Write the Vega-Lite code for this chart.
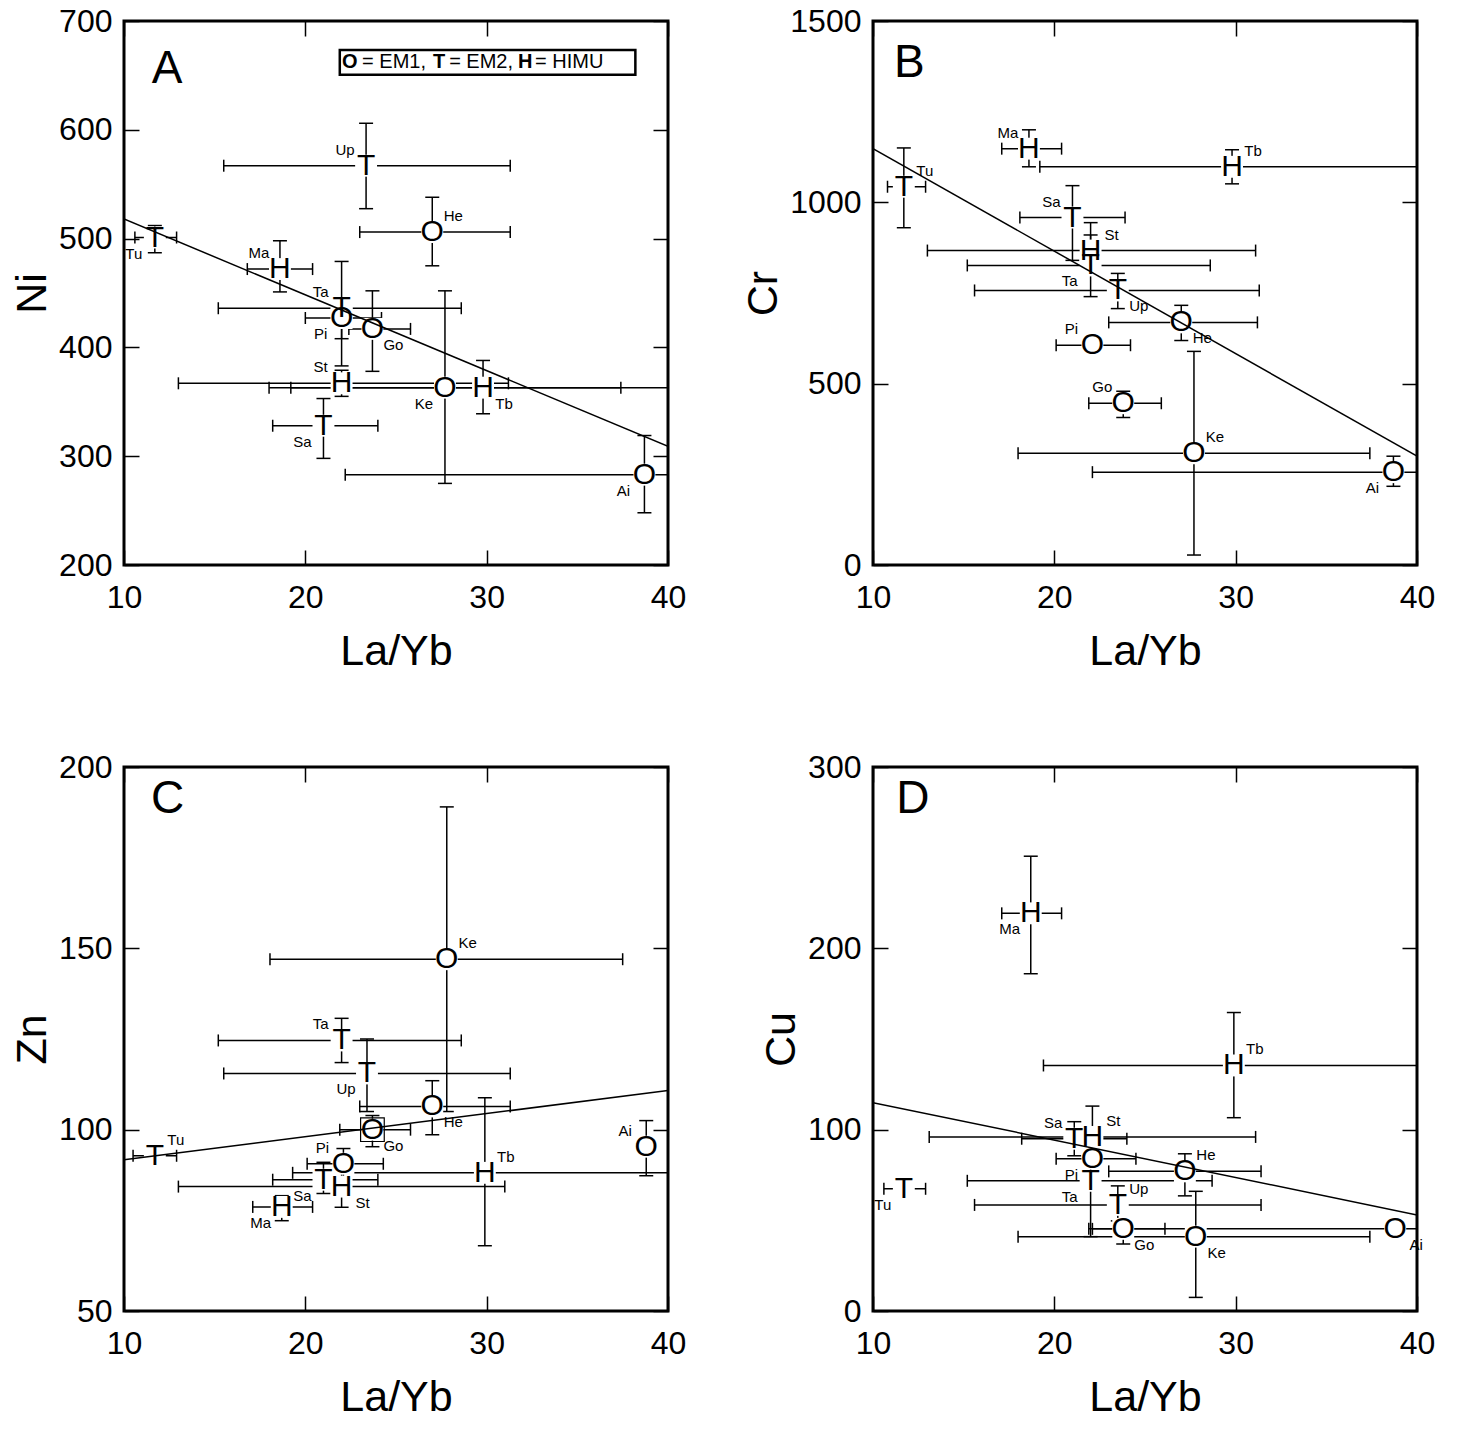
{
"$schema": "https://vega.github.io/schema/vega-lite/v6.json",
"padding": {"left": 10, "top": 3, "right": 5, "bottom": 5},
"background": "white",
"config": {
 "font": "Liberation Sans",
 "view": {"stroke": "black", "strokeWidth": 3},
 "axis": {"labelFont": "Liberation Sans", "labelFontSize": 32, "titleFont": "Liberation Sans", "titleFontSize": 43, "titleFontWeight": "normal", "labelColor": "black", "titleColor": "black", "tickColor": "black", "tickSize": -15, "tickWidth": 1.5, "domain": false, "grid": false, "labelPadding": 30, "labelFlush": false, "labelOverlap": false, "titlePadding": 10, "format": "d"},
 "axisX": {"labelPadding": 32, "titlePadding": 17},
 "axisY": {"labelPadding": 27, "titlePadding": 4},
 "text": {"font": "Liberation Sans", "color": "black"}
},
"datasets": {
 "A": [
  {"s": "Up", "m": "T", "x": 23.35, "y": 567, "xlo": 15.5, "xhi": 31.3, "ylo": 527.5, "yhi": 606, "lp": "nw"},
  {"s": "He", "m": "O", "x": 27.0, "y": 506, "xlo": 23.0, "xhi": 31.3, "ylo": 475, "yhi": 538, "lp": "ne"},
  {"s": "Tu", "m": "T", "x": 11.7, "y": 501, "xlo": 10.6, "xhi": 12.9, "ylo": 487, "yhi": 512, "lp": "sw"},
  {"s": "Ma", "m": "H", "x": 18.6, "y": 472, "xlo": 16.8, "xhi": 20.4, "ylo": 451, "yhi": 498, "lp": "nw"},
  {"s": "Ta", "m": "T", "x": 22.0, "y": 436, "xlo": 15.2, "xhi": 28.6, "ylo": 383, "yhi": 479, "lp": "nw"},
  {"s": "Pi", "m": "O", "x": 22.0, "y": 427, "xlo": 20.0, "xhi": 24.2, "ylo": 408, "yhi": 444, "lp": "sw"},
  {"s": "Go", "m": "O", "x": 23.7, "y": 417, "xlo": 22.4, "xhi": 25.8, "ylo": 378, "yhi": 452, "lp": "se"},
  {"s": "St", "m": "H", "x": 22.0, "y": 367, "xlo": 13.0, "xhi": 31.2, "ylo": 355, "yhi": 379, "lp": "nw"},
  {"s": "Ke", "m": "O", "x": 27.7, "y": 363, "xlo": 18.0, "xhi": 37.4, "ylo": 275, "yhi": 452, "lp": "sw"},
  {"s": "Tb", "m": "H", "x": 29.8, "y": 363, "xlo": 19.2, "xhi": 41, "ylo": 339, "yhi": 388, "lp": "se"},
  {"s": "Sa", "m": "T", "x": 21.0, "y": 328, "xlo": 18.2, "xhi": 24.0, "ylo": 298, "yhi": 353, "lp": "sw"},
  {"s": "Ai", "m": "O", "x": 38.7, "y": 283, "xlo": 22.2, "xhi": 41, "ylo": 248, "yhi": 319, "lp": "sw"}
 ],
 "B": [
  {"s": "Ma", "m": "H", "x": 18.6, "y": 1148, "xlo": 17.1, "xhi": 20.4, "ylo": 1098, "yhi": 1200, "lp": "nw"},
  {"s": "Tb", "m": "H", "x": 29.8, "y": 1098, "xlo": 19.2, "xhi": 41, "ylo": 1051, "yhi": 1145, "lp": "ne"},
  {"s": "Tu", "m": "T", "x": 11.7, "y": 1043, "xlo": 10.8, "xhi": 12.9, "ylo": 930, "yhi": 1150, "lp": "ne"},
  {"s": "Sa", "m": "T", "x": 21.0, "y": 958, "xlo": 18.1, "xhi": 23.9, "ylo": 840, "yhi": 1046, "lp": "nw"},
  {"s": "St", "m": "H", "x": 22.0, "y": 867, "xlo": 13.0, "xhi": 31.1, "ylo": 817, "yhi": 944, "lp": "ne"},
  {"s": "Ta", "m": "T", "x": 22.0, "y": 826, "xlo": 15.2, "xhi": 28.6, "ylo": 740, "yhi": 910, "lp": "sw"},
  {"s": "Up", "m": "T", "x": 23.5, "y": 757, "xlo": 15.6, "xhi": 31.3, "ylo": 707, "yhi": 804, "lp": "se"},
  {"s": "He", "m": "O", "x": 27.0, "y": 669, "xlo": 23.0, "xhi": 31.2, "ylo": 619, "yhi": 716, "lp": "se"},
  {"s": "Pi", "m": "O", "x": 22.1, "y": 606, "xlo": 20.1, "xhi": 24.2, "lp": "nw"},
  {"s": "Go", "m": "O", "x": 23.8, "y": 446, "xlo": 21.9, "xhi": 25.9, "ylo": 407, "yhi": 479, "lp": "nw"},
  {"s": "Ke", "m": "O", "x": 27.7, "y": 308, "xlo": 18.0, "xhi": 37.4, "ylo": 27.5, "yhi": 589, "lp": "ne"},
  {"s": "Ai", "m": "O", "x": 38.7, "y": 256, "xlo": 22.1, "xhi": 41, "ylo": 217, "yhi": 300, "lp": "sw"}
 ],
 "C": [
  {"s": "Ke", "m": "O", "x": 27.8, "y": 147, "xlo": 18.05, "xhi": 37.5, "ylo": 105, "yhi": 189, "lp": "ne"},
  {"s": "Ta", "m": "T", "x": 22.0, "y": 124.6, "xlo": 15.2, "xhi": 28.6, "ylo": 118.5, "yhi": 130.7, "lp": "nw"},
  {"s": "Up", "m": "T", "x": 23.4, "y": 115.5, "xlo": 15.5, "xhi": 31.3, "ylo": 105, "yhi": 125, "lp": "sw"},
  {"s": "He", "m": "O", "x": 27.0, "y": 106.4, "xlo": 23.0, "xhi": 31.3, "ylo": 98.6, "yhi": 113.5, "lp": "se"},
  {"s": "Go", "m": "O", "x": 23.7, "y": 100, "xlo": 21.9, "xhi": 25.8, "ylo": 95.3, "yhi": 103.9, "lp": "se", "box": 1},
  {"s": "Tu", "m": "T", "x": 11.7, "y": 92.8, "xlo": 10.5, "xhi": 12.9, "lp": "ne"},
  {"s": "Pi", "m": "O", "x": 22.1, "y": 90.6, "xlo": 20.1, "xhi": 24.3, "ylo": 86.4, "yhi": 94.8, "lp": "nw"},
  {"s": "Tb", "m": "H", "x": 29.9, "y": 88.1, "xlo": 19.3, "xhi": 41, "ylo": 68, "yhi": 108.8, "lp": "ne"},
  {"s": "Sa", "m": "T", "x": 21.0, "y": 86.2, "xlo": 18.2, "xhi": 24.0, "ylo": 82.4, "yhi": 91, "lp": "sw"},
  {"s": "St", "m": "H", "x": 22.0, "y": 84.3, "xlo": 13.0, "xhi": 31.0, "ylo": 78.6, "yhi": 89.5, "lp": "se"},
  {"s": "Ma", "m": "H", "x": 18.7, "y": 78.7, "xlo": 17.1, "xhi": 20.4, "ylo": 74.9, "yhi": 81.8, "lp": "sw"},
  {"s": "Ai", "m": "O", "x": 38.8, "y": 95.3, "ylo": 87.3, "yhi": 102.5, "lp": "nw"}
 ],
 "D": [
  {"s": "Ma", "m": "H", "x": 18.7, "y": 219.3, "xlo": 17.1, "xhi": 20.4, "ylo": 186, "yhi": 250.8, "lp": "sw"},
  {"s": "Tb", "m": "H", "x": 29.9, "y": 135.4, "xlo": 19.4, "xhi": 41, "ylo": 106.6, "yhi": 164.6, "lp": "ne"},
  {"s": "Sa", "m": "T", "x": 21.1, "y": 95, "xlo": 18.2, "xhi": 24.0, "ylo": 85.6, "yhi": 104.4, "lp": "nw"},
  {"s": "St", "m": "H", "x": 22.1, "y": 96, "xlo": 13.1, "xhi": 31.1, "ylo": 89.5, "yhi": 113, "lp": "ne"},
  {"s": "Pi", "m": "O", "x": 22.1, "y": 84, "xlo": 20.1, "xhi": 24.5, "lp": "sw"},
  {"s": "Ta", "m": "T", "x": 22.0, "y": 71.8, "xlo": 15.2, "xhi": 28.7, "ylo": 41, "yhi": 80, "lp": "sw"},
  {"s": "He", "m": "O", "x": 27.2, "y": 77, "xlo": 23.0, "xhi": 31.4, "ylo": 63.5, "yhi": 86.7, "lp": "ne"},
  {"s": "Up", "m": "T", "x": 23.5, "y": 58.5, "xlo": 15.6, "xhi": 31.4, "ylo": 49.7, "yhi": 69, "lp": "ne"},
  {"s": "Tu", "m": "T", "x": 11.7, "y": 67.4, "xlo": 10.6, "xhi": 12.9, "ylo": 63.5, "yhi": 71.3, "lp": "sw"},
  {"s": "Go", "m": "O", "x": 23.8, "y": 45.3, "xlo": 21.9, "xhi": 26.1, "ylo": 37, "yhi": 48.6, "lp": "se"},
  {"s": "Ke", "m": "O", "x": 27.8, "y": 41, "xlo": 18.0, "xhi": 37.4, "ylo": 7.5, "yhi": 66, "lp": "se"},
  {"s": "Ai", "m": "O", "x": 38.8, "y": 45.3, "xlo": 22.1, "xhi": 41, "lp": "se"}
 ],
 "fitA": [{"fx": 10, "fy": 518}, {"fx": 40, "fy": 309}],
 "fitB": [{"fx": 10, "fy": 1148}, {"fx": 40, "fy": 300}],
 "fitC": [{"fx": 10, "fy": 91.7}, {"fx": 40, "fy": 110.8}],
 "fitD": [{"fx": 10, "fy": 114.9}, {"fx": 40, "fy": 53}],
 "letA": [{"t": "A", "lx": 12.37, "ly": 656}],
 "letB": [{"t": "B", "lx": 12.0, "ly": 1384}],
 "letC": [{"t": "C", "lx": 12.4, "ly": 191.2}],
 "letD": [{"t": "D", "lx": 12.2, "ly": 282.3}],
 "boxA": [{"bx": 21.9, "bx2": 38.2, "by": 650.5, "by2": 673.4}],
 "legA": [
  {"t": "O", "w": "b", "lx": 22.02, "ly": 662},
  {"t": "= EM1,", "w": "n", "lx": 23.13, "ly": 662},
  {"t": "T", "w": "b", "lx": 27.04, "ly": 662},
  {"t": "= EM2,", "w": "n", "lx": 27.93, "ly": 662},
  {"t": "H", "w": "b", "lx": 31.73, "ly": 662},
  {"t": "= HIMU", "w": "n", "lx": 32.67, "ly": 662}
 ]
},
"columns": 2,
"bounds": "flush",
"spacing": {"row": 202, "column": 205},
"concat": [
 {
  "width": 544, "height": 544,
  "data": {"name": "A"},
  "resolve": {"axis": {"x": "independent", "y": "independent"}},
  "layer": [
   {"transform": [{"filter": "isValid(datum.xlo)"}],
    "mark": {"type": "rule", "clip": true, "strokeWidth": 1.5, "color": "black"},
    "encoding": {
     "x": {"field": "xlo", "type": "quantitative", "scale": {"domain": [10, 40], "nice": false, "zero": false}, "axis": {"title": "La/Yb", "values": [10, 20, 30, 40]}},
     "x2": {"field": "xhi"},
     "y": {"field": "y", "type": "quantitative", "scale": {"domain": [200, 700], "nice": false, "zero": false}, "axis": {"title": "Ni", "values": [200, 300, 400, 500, 600, 700]}}}},
   {"transform": [{"filter": "isValid(datum.ylo)"}],
    "mark": {"type": "rule", "clip": true, "strokeWidth": 1.5, "color": "black"},
    "encoding": {
     "x": {"field": "x", "type": "quantitative", "scale": {"domain": [10, 40], "nice": false, "zero": false}, "axis": {"orient": "top", "labels": false, "title": null, "values": [10, 20, 30, 40]}},
     "y": {"field": "ylo", "type": "quantitative", "scale": {"domain": [200, 700], "nice": false, "zero": false}, "axis": {"orient": "right", "labels": false, "title": null, "values": [200, 300, 400, 500, 600, 700]}},
     "y2": {"field": "yhi"}}},
   {"transform": [{"filter": "isValid(datum.xlo)"}],
    "mark": {"type": "tick", "orient": "vertical", "size": 12, "thickness": 1.5, "color": "black", "clip": true, "opacity": 1},
    "encoding": {"x": {"field": "xlo", "type": "quantitative", "scale": {"domain": [10, 40], "nice": false, "zero": false}, "axis": null}, "y": {"field": "y", "type": "quantitative", "scale": {"domain": [200, 700], "nice": false, "zero": false}, "axis": null}}},
   {"transform": [{"filter": "isValid(datum.xhi)"}],
    "mark": {"type": "tick", "orient": "vertical", "size": 12, "thickness": 1.5, "color": "black", "clip": true, "opacity": 1},
    "encoding": {"x": {"field": "xhi", "type": "quantitative", "scale": {"domain": [10, 40], "nice": false, "zero": false}, "axis": null}, "y": {"field": "y", "type": "quantitative", "scale": {"domain": [200, 700], "nice": false, "zero": false}, "axis": null}}},
   {"transform": [{"filter": "isValid(datum.ylo)"}],
    "mark": {"type": "tick", "orient": "horizontal", "size": 14, "thickness": 1.5, "color": "black", "clip": true, "opacity": 1},
    "encoding": {"x": {"field": "x", "type": "quantitative", "scale": {"domain": [10, 40], "nice": false, "zero": false}, "axis": null}, "y": {"field": "ylo", "type": "quantitative", "scale": {"domain": [200, 700], "nice": false, "zero": false}, "axis": null}}},
   {"transform": [{"filter": "isValid(datum.yhi)"}],
    "mark": {"type": "tick", "orient": "horizontal", "size": 14, "thickness": 1.5, "color": "black", "clip": true, "opacity": 1},
    "encoding": {"x": {"field": "x", "type": "quantitative", "scale": {"domain": [10, 40], "nice": false, "zero": false}, "axis": null}, "y": {"field": "yhi", "type": "quantitative", "scale": {"domain": [200, 700], "nice": false, "zero": false}, "axis": null}}},
   {"mark": {"type": "point", "shape": "square", "size": 480, "filled": true, "color": "white", "opacity": 1},
    "encoding": {"x": {"field": "x", "type": "quantitative", "scale": {"domain": [10, 40], "nice": false, "zero": false}, "axis": null}, "y": {"field": "y", "type": "quantitative", "scale": {"domain": [200, 700], "nice": false, "zero": false}, "axis": null}}},
   {"data": {"name": "fitA"},
    "mark": {"type": "line", "color": "black", "strokeWidth": 1.5, "clip": true},
    "encoding": {"x": {"field": "fx", "type": "quantitative", "scale": {"domain": [10, 40], "nice": false, "zero": false}, "axis": null}, "y": {"field": "fy", "type": "quantitative", "scale": {"domain": [200, 700], "nice": false, "zero": false}, "axis": null}}},
   {"data": {"name": "boxA"},
    "mark": {"type": "rect", "fill": "white", "stroke": "black", "strokeWidth": 2.5},
    "encoding": {"x": {"field": "bx", "type": "quantitative", "scale": {"domain": [10, 40], "nice": false, "zero": false}, "axis": null}, "x2": {"field": "bx2"}, "y": {"field": "by", "type": "quantitative", "scale": {"domain": [200, 700], "nice": false, "zero": false}, "axis": null}, "y2": {"field": "by2"}}},
   {"data": {"name": "legA"}, "transform": [{"filter": "datum.w == 'b'"}],
    "mark": {"type": "text", "fontSize": 20, "fontWeight": "bold", "align": "left", "baseline": "middle"},
    "encoding": {"x": {"field": "lx", "type": "quantitative", "scale": {"domain": [10, 40], "nice": false, "zero": false}, "axis": null}, "y": {"field": "ly", "type": "quantitative", "scale": {"domain": [200, 700], "nice": false, "zero": false}, "axis": null}, "text": {"field": "t"}}},
   {"data": {"name": "legA"}, "transform": [{"filter": "datum.w == 'n'"}],
    "mark": {"type": "text", "fontSize": 20, "align": "left", "baseline": "middle"},
    "encoding": {"x": {"field": "lx", "type": "quantitative", "scale": {"domain": [10, 40], "nice": false, "zero": false}, "axis": null}, "y": {"field": "ly", "type": "quantitative", "scale": {"domain": [200, 700], "nice": false, "zero": false}, "axis": null}, "text": {"field": "t"}}},
   {"data": {"name": "letA"},
    "mark": {"type": "text", "fontSize": 46, "baseline": "middle"},
    "encoding": {"x": {"field": "lx", "type": "quantitative", "scale": {"domain": [10, 40], "nice": false, "zero": false}, "axis": null}, "y": {"field": "ly", "type": "quantitative", "scale": {"domain": [200, 700], "nice": false, "zero": false}, "axis": null}, "text": {"field": "t"}}},
   {"mark": {"type": "text", "fontSize": 30, "baseline": "middle"},
    "encoding": {"x": {"field": "x", "type": "quantitative", "scale": {"domain": [10, 40], "nice": false, "zero": false}, "axis": null}, "y": {"field": "y", "type": "quantitative", "scale": {"domain": [200, 700], "nice": false, "zero": false}, "axis": null}, "text": {"field": "m"}}},
   {"transform": [{"filter": "datum.lp == 'nw'"}],
    "mark": {"type": "text", "fontSize": 15, "dx": -21, "dy": -16},
    "encoding": {"x": {"field": "x", "type": "quantitative", "scale": {"domain": [10, 40], "nice": false, "zero": false}, "axis": null}, "y": {"field": "y", "type": "quantitative", "scale": {"domain": [200, 700], "nice": false, "zero": false}, "axis": null}, "text": {"field": "s"}}},
   {"transform": [{"filter": "datum.lp == 'ne'"}],
    "mark": {"type": "text", "fontSize": 15, "dx": 21, "dy": -16},
    "encoding": {"x": {"field": "x", "type": "quantitative", "scale": {"domain": [10, 40], "nice": false, "zero": false}, "axis": null}, "y": {"field": "y", "type": "quantitative", "scale": {"domain": [200, 700], "nice": false, "zero": false}, "axis": null}, "text": {"field": "s"}}},
   {"transform": [{"filter": "datum.lp == 'sw'"}],
    "mark": {"type": "text", "fontSize": 15, "dx": -21, "dy": 16},
    "encoding": {"x": {"field": "x", "type": "quantitative", "scale": {"domain": [10, 40], "nice": false, "zero": false}, "axis": null}, "y": {"field": "y", "type": "quantitative", "scale": {"domain": [200, 700], "nice": false, "zero": false}, "axis": null}, "text": {"field": "s"}}},
   {"transform": [{"filter": "datum.lp == 'se'"}],
    "mark": {"type": "text", "fontSize": 15, "dx": 21, "dy": 16},
    "encoding": {"x": {"field": "x", "type": "quantitative", "scale": {"domain": [10, 40], "nice": false, "zero": false}, "axis": null}, "y": {"field": "y", "type": "quantitative", "scale": {"domain": [200, 700], "nice": false, "zero": false}, "axis": null}, "text": {"field": "s"}}}
  ]
 },
 {
  "width": 544, "height": 544,
  "data": {"name": "B"},
  "resolve": {"axis": {"x": "independent", "y": "independent"}},
  "layer": [
   {"transform": [{"filter": "isValid(datum.xlo)"}],
    "mark": {"type": "rule", "clip": true, "strokeWidth": 1.5, "color": "black"},
    "encoding": {
     "x": {"field": "xlo", "type": "quantitative", "scale": {"domain": [10, 40], "nice": false, "zero": false}, "axis": {"title": "La/Yb", "values": [10, 20, 30, 40]}},
     "x2": {"field": "xhi"},
     "y": {"field": "y", "type": "quantitative", "scale": {"domain": [0, 1500], "nice": false, "zero": false}, "axis": {"title": "Cr", "values": [0, 500, 1000, 1500]}}}},
   {"transform": [{"filter": "isValid(datum.ylo)"}],
    "mark": {"type": "rule", "clip": true, "strokeWidth": 1.5, "color": "black"},
    "encoding": {
     "x": {"field": "x", "type": "quantitative", "scale": {"domain": [10, 40], "nice": false, "zero": false}, "axis": {"orient": "top", "labels": false, "title": null, "values": [10, 20, 30, 40]}},
     "y": {"field": "ylo", "type": "quantitative", "scale": {"domain": [0, 1500], "nice": false, "zero": false}, "axis": {"orient": "right", "labels": false, "title": null, "values": [0, 500, 1000, 1500]}},
     "y2": {"field": "yhi"}}},
   {"transform": [{"filter": "isValid(datum.xlo)"}],
    "mark": {"type": "tick", "orient": "vertical", "size": 12, "thickness": 1.5, "color": "black", "clip": true, "opacity": 1},
    "encoding": {"x": {"field": "xlo", "type": "quantitative", "scale": {"domain": [10, 40], "nice": false, "zero": false}, "axis": null}, "y": {"field": "y", "type": "quantitative", "scale": {"domain": [0, 1500], "nice": false, "zero": false}, "axis": null}}},
   {"transform": [{"filter": "isValid(datum.xhi)"}],
    "mark": {"type": "tick", "orient": "vertical", "size": 12, "thickness": 1.5, "color": "black", "clip": true, "opacity": 1},
    "encoding": {"x": {"field": "xhi", "type": "quantitative", "scale": {"domain": [10, 40], "nice": false, "zero": false}, "axis": null}, "y": {"field": "y", "type": "quantitative", "scale": {"domain": [0, 1500], "nice": false, "zero": false}, "axis": null}}},
   {"transform": [{"filter": "isValid(datum.ylo)"}],
    "mark": {"type": "tick", "orient": "horizontal", "size": 14, "thickness": 1.5, "color": "black", "clip": true, "opacity": 1},
    "encoding": {"x": {"field": "x", "type": "quantitative", "scale": {"domain": [10, 40], "nice": false, "zero": false}, "axis": null}, "y": {"field": "ylo", "type": "quantitative", "scale": {"domain": [0, 1500], "nice": false, "zero": false}, "axis": null}}},
   {"transform": [{"filter": "isValid(datum.yhi)"}],
    "mark": {"type": "tick", "orient": "horizontal", "size": 14, "thickness": 1.5, "color": "black", "clip": true, "opacity": 1},
    "encoding": {"x": {"field": "x", "type": "quantitative", "scale": {"domain": [10, 40], "nice": false, "zero": false}, "axis": null}, "y": {"field": "yhi", "type": "quantitative", "scale": {"domain": [0, 1500], "nice": false, "zero": false}, "axis": null}}},
   {"mark": {"type": "point", "shape": "square", "size": 480, "filled": true, "color": "white", "opacity": 1},
    "encoding": {"x": {"field": "x", "type": "quantitative", "scale": {"domain": [10, 40], "nice": false, "zero": false}, "axis": null}, "y": {"field": "y", "type": "quantitative", "scale": {"domain": [0, 1500], "nice": false, "zero": false}, "axis": null}}},
   {"data": {"name": "fitB"},
    "mark": {"type": "line", "color": "black", "strokeWidth": 1.5, "clip": true},
    "encoding": {"x": {"field": "fx", "type": "quantitative", "scale": {"domain": [10, 40], "nice": false, "zero": false}, "axis": null}, "y": {"field": "fy", "type": "quantitative", "scale": {"domain": [0, 1500], "nice": false, "zero": false}, "axis": null}}},
   {"data": {"name": "letB"},
    "mark": {"type": "text", "fontSize": 46, "baseline": "middle"},
    "encoding": {"x": {"field": "lx", "type": "quantitative", "scale": {"domain": [10, 40], "nice": false, "zero": false}, "axis": null}, "y": {"field": "ly", "type": "quantitative", "scale": {"domain": [0, 1500], "nice": false, "zero": false}, "axis": null}, "text": {"field": "t"}}},
   {"mark": {"type": "text", "fontSize": 30, "baseline": "middle"},
    "encoding": {"x": {"field": "x", "type": "quantitative", "scale": {"domain": [10, 40], "nice": false, "zero": false}, "axis": null}, "y": {"field": "y", "type": "quantitative", "scale": {"domain": [0, 1500], "nice": false, "zero": false}, "axis": null}, "text": {"field": "m"}}},
   {"transform": [{"filter": "datum.lp == 'nw'"}],
    "mark": {"type": "text", "fontSize": 15, "dx": -21, "dy": -16},
    "encoding": {"x": {"field": "x", "type": "quantitative", "scale": {"domain": [10, 40], "nice": false, "zero": false}, "axis": null}, "y": {"field": "y", "type": "quantitative", "scale": {"domain": [0, 1500], "nice": false, "zero": false}, "axis": null}, "text": {"field": "s"}}},
   {"transform": [{"filter": "datum.lp == 'ne'"}],
    "mark": {"type": "text", "fontSize": 15, "dx": 21, "dy": -16},
    "encoding": {"x": {"field": "x", "type": "quantitative", "scale": {"domain": [10, 40], "nice": false, "zero": false}, "axis": null}, "y": {"field": "y", "type": "quantitative", "scale": {"domain": [0, 1500], "nice": false, "zero": false}, "axis": null}, "text": {"field": "s"}}},
   {"transform": [{"filter": "datum.lp == 'sw'"}],
    "mark": {"type": "text", "fontSize": 15, "dx": -21, "dy": 16},
    "encoding": {"x": {"field": "x", "type": "quantitative", "scale": {"domain": [10, 40], "nice": false, "zero": false}, "axis": null}, "y": {"field": "y", "type": "quantitative", "scale": {"domain": [0, 1500], "nice": false, "zero": false}, "axis": null}, "text": {"field": "s"}}},
   {"transform": [{"filter": "datum.lp == 'se'"}],
    "mark": {"type": "text", "fontSize": 15, "dx": 21, "dy": 16},
    "encoding": {"x": {"field": "x", "type": "quantitative", "scale": {"domain": [10, 40], "nice": false, "zero": false}, "axis": null}, "y": {"field": "y", "type": "quantitative", "scale": {"domain": [0, 1500], "nice": false, "zero": false}, "axis": null}, "text": {"field": "s"}}}
  ]
 },
 {
  "width": 544, "height": 544,
  "data": {"name": "C"},
  "resolve": {"axis": {"x": "independent", "y": "independent"}},
  "layer": [
   {"transform": [{"filter": "isValid(datum.xlo)"}],
    "mark": {"type": "rule", "clip": true, "strokeWidth": 1.5, "color": "black"},
    "encoding": {
     "x": {"field": "xlo", "type": "quantitative", "scale": {"domain": [10, 40], "nice": false, "zero": false}, "axis": {"title": "La/Yb", "values": [10, 20, 30, 40]}},
     "x2": {"field": "xhi"},
     "y": {"field": "y", "type": "quantitative", "scale": {"domain": [50, 200], "nice": false, "zero": false}, "axis": {"title": "Zn", "values": [50, 100, 150, 200]}}}},
   {"transform": [{"filter": "isValid(datum.ylo)"}],
    "mark": {"type": "rule", "clip": true, "strokeWidth": 1.5, "color": "black"},
    "encoding": {
     "x": {"field": "x", "type": "quantitative", "scale": {"domain": [10, 40], "nice": false, "zero": false}, "axis": {"orient": "top", "labels": false, "title": null, "values": [10, 20, 30, 40]}},
     "y": {"field": "ylo", "type": "quantitative", "scale": {"domain": [50, 200], "nice": false, "zero": false}, "axis": {"orient": "right", "labels": false, "title": null, "values": [50, 100, 150, 200]}},
     "y2": {"field": "yhi"}}},
   {"transform": [{"filter": "isValid(datum.xlo)"}],
    "mark": {"type": "tick", "orient": "vertical", "size": 12, "thickness": 1.5, "color": "black", "clip": true, "opacity": 1},
    "encoding": {"x": {"field": "xlo", "type": "quantitative", "scale": {"domain": [10, 40], "nice": false, "zero": false}, "axis": null}, "y": {"field": "y", "type": "quantitative", "scale": {"domain": [50, 200], "nice": false, "zero": false}, "axis": null}}},
   {"transform": [{"filter": "isValid(datum.xhi)"}],
    "mark": {"type": "tick", "orient": "vertical", "size": 12, "thickness": 1.5, "color": "black", "clip": true, "opacity": 1},
    "encoding": {"x": {"field": "xhi", "type": "quantitative", "scale": {"domain": [10, 40], "nice": false, "zero": false}, "axis": null}, "y": {"field": "y", "type": "quantitative", "scale": {"domain": [50, 200], "nice": false, "zero": false}, "axis": null}}},
   {"transform": [{"filter": "isValid(datum.ylo)"}],
    "mark": {"type": "tick", "orient": "horizontal", "size": 14, "thickness": 1.5, "color": "black", "clip": true, "opacity": 1},
    "encoding": {"x": {"field": "x", "type": "quantitative", "scale": {"domain": [10, 40], "nice": false, "zero": false}, "axis": null}, "y": {"field": "ylo", "type": "quantitative", "scale": {"domain": [50, 200], "nice": false, "zero": false}, "axis": null}}},
   {"transform": [{"filter": "isValid(datum.yhi)"}],
    "mark": {"type": "tick", "orient": "horizontal", "size": 14, "thickness": 1.5, "color": "black", "clip": true, "opacity": 1},
    "encoding": {"x": {"field": "x", "type": "quantitative", "scale": {"domain": [10, 40], "nice": false, "zero": false}, "axis": null}, "y": {"field": "yhi", "type": "quantitative", "scale": {"domain": [50, 200], "nice": false, "zero": false}, "axis": null}}},
   {"mark": {"type": "point", "shape": "square", "size": 480, "filled": true, "color": "white", "opacity": 1},
    "encoding": {"x": {"field": "x", "type": "quantitative", "scale": {"domain": [10, 40], "nice": false, "zero": false}, "axis": null}, "y": {"field": "y", "type": "quantitative", "scale": {"domain": [50, 200], "nice": false, "zero": false}, "axis": null}}},
   {"transform": [{"filter": "datum.box == 1"}],
    "mark": {"type": "point", "shape": "square", "size": 560, "filled": false, "color": "black", "strokeWidth": 1.2, "opacity": 1},
    "encoding": {"x": {"field": "x", "type": "quantitative", "scale": {"domain": [10, 40], "nice": false, "zero": false}, "axis": null}, "y": {"field": "y", "type": "quantitative", "scale": {"domain": [50, 200], "nice": false, "zero": false}, "axis": null}}},
   {"data": {"name": "fitC"},
    "mark": {"type": "line", "color": "black", "strokeWidth": 1.5, "clip": true},
    "encoding": {"x": {"field": "fx", "type": "quantitative", "scale": {"domain": [10, 40], "nice": false, "zero": false}, "axis": null}, "y": {"field": "fy", "type": "quantitative", "scale": {"domain": [50, 200], "nice": false, "zero": false}, "axis": null}}},
   {"data": {"name": "letC"},
    "mark": {"type": "text", "fontSize": 46, "baseline": "middle"},
    "encoding": {"x": {"field": "lx", "type": "quantitative", "scale": {"domain": [10, 40], "nice": false, "zero": false}, "axis": null}, "y": {"field": "ly", "type": "quantitative", "scale": {"domain": [50, 200], "nice": false, "zero": false}, "axis": null}, "text": {"field": "t"}}},
   {"mark": {"type": "text", "fontSize": 30, "baseline": "middle"},
    "encoding": {"x": {"field": "x", "type": "quantitative", "scale": {"domain": [10, 40], "nice": false, "zero": false}, "axis": null}, "y": {"field": "y", "type": "quantitative", "scale": {"domain": [50, 200], "nice": false, "zero": false}, "axis": null}, "text": {"field": "m"}}},
   {"transform": [{"filter": "datum.lp == 'nw'"}],
    "mark": {"type": "text", "fontSize": 15, "dx": -21, "dy": -16},
    "encoding": {"x": {"field": "x", "type": "quantitative", "scale": {"domain": [10, 40], "nice": false, "zero": false}, "axis": null}, "y": {"field": "y", "type": "quantitative", "scale": {"domain": [50, 200], "nice": false, "zero": false}, "axis": null}, "text": {"field": "s"}}},
   {"transform": [{"filter": "datum.lp == 'ne'"}],
    "mark": {"type": "text", "fontSize": 15, "dx": 21, "dy": -16},
    "encoding": {"x": {"field": "x", "type": "quantitative", "scale": {"domain": [10, 40], "nice": false, "zero": false}, "axis": null}, "y": {"field": "y", "type": "quantitative", "scale": {"domain": [50, 200], "nice": false, "zero": false}, "axis": null}, "text": {"field": "s"}}},
   {"transform": [{"filter": "datum.lp == 'sw'"}],
    "mark": {"type": "text", "fontSize": 15, "dx": -21, "dy": 16},
    "encoding": {"x": {"field": "x", "type": "quantitative", "scale": {"domain": [10, 40], "nice": false, "zero": false}, "axis": null}, "y": {"field": "y", "type": "quantitative", "scale": {"domain": [50, 200], "nice": false, "zero": false}, "axis": null}, "text": {"field": "s"}}},
   {"transform": [{"filter": "datum.lp == 'se'"}],
    "mark": {"type": "text", "fontSize": 15, "dx": 21, "dy": 16},
    "encoding": {"x": {"field": "x", "type": "quantitative", "scale": {"domain": [10, 40], "nice": false, "zero": false}, "axis": null}, "y": {"field": "y", "type": "quantitative", "scale": {"domain": [50, 200], "nice": false, "zero": false}, "axis": null}, "text": {"field": "s"}}}
  ]
 },
 {
  "width": 544, "height": 544,
  "data": {"name": "D"},
  "resolve": {"axis": {"x": "independent", "y": "independent"}},
  "layer": [
   {"transform": [{"filter": "isValid(datum.xlo)"}],
    "mark": {"type": "rule", "clip": true, "strokeWidth": 1.5, "color": "black"},
    "encoding": {
     "x": {"field": "xlo", "type": "quantitative", "scale": {"domain": [10, 40], "nice": false, "zero": false}, "axis": {"title": "La/Yb", "values": [10, 20, 30, 40]}},
     "x2": {"field": "xhi"},
     "y": {"field": "y", "type": "quantitative", "scale": {"domain": [0, 300], "nice": false, "zero": false}, "axis": {"title": "Cu", "values": [0, 100, 200, 300]}}}},
   {"transform": [{"filter": "isValid(datum.ylo)"}],
    "mark": {"type": "rule", "clip": true, "strokeWidth": 1.5, "color": "black"},
    "encoding": {
     "x": {"field": "x", "type": "quantitative", "scale": {"domain": [10, 40], "nice": false, "zero": false}, "axis": {"orient": "top", "labels": false, "title": null, "values": [10, 20, 30, 40]}},
     "y": {"field": "ylo", "type": "quantitative", "scale": {"domain": [0, 300], "nice": false, "zero": false}, "axis": {"orient": "right", "labels": false, "title": null, "values": [0, 100, 200, 300]}},
     "y2": {"field": "yhi"}}},
   {"transform": [{"filter": "isValid(datum.xlo)"}],
    "mark": {"type": "tick", "orient": "vertical", "size": 12, "thickness": 1.5, "color": "black", "clip": true, "opacity": 1},
    "encoding": {"x": {"field": "xlo", "type": "quantitative", "scale": {"domain": [10, 40], "nice": false, "zero": false}, "axis": null}, "y": {"field": "y", "type": "quantitative", "scale": {"domain": [0, 300], "nice": false, "zero": false}, "axis": null}}},
   {"transform": [{"filter": "isValid(datum.xhi)"}],
    "mark": {"type": "tick", "orient": "vertical", "size": 12, "thickness": 1.5, "color": "black", "clip": true, "opacity": 1},
    "encoding": {"x": {"field": "xhi", "type": "quantitative", "scale": {"domain": [10, 40], "nice": false, "zero": false}, "axis": null}, "y": {"field": "y", "type": "quantitative", "scale": {"domain": [0, 300], "nice": false, "zero": false}, "axis": null}}},
   {"transform": [{"filter": "isValid(datum.ylo)"}],
    "mark": {"type": "tick", "orient": "horizontal", "size": 14, "thickness": 1.5, "color": "black", "clip": true, "opacity": 1},
    "encoding": {"x": {"field": "x", "type": "quantitative", "scale": {"domain": [10, 40], "nice": false, "zero": false}, "axis": null}, "y": {"field": "ylo", "type": "quantitative", "scale": {"domain": [0, 300], "nice": false, "zero": false}, "axis": null}}},
   {"transform": [{"filter": "isValid(datum.yhi)"}],
    "mark": {"type": "tick", "orient": "horizontal", "size": 14, "thickness": 1.5, "color": "black", "clip": true, "opacity": 1},
    "encoding": {"x": {"field": "x", "type": "quantitative", "scale": {"domain": [10, 40], "nice": false, "zero": false}, "axis": null}, "y": {"field": "yhi", "type": "quantitative", "scale": {"domain": [0, 300], "nice": false, "zero": false}, "axis": null}}},
   {"mark": {"type": "point", "shape": "square", "size": 480, "filled": true, "color": "white", "opacity": 1},
    "encoding": {"x": {"field": "x", "type": "quantitative", "scale": {"domain": [10, 40], "nice": false, "zero": false}, "axis": null}, "y": {"field": "y", "type": "quantitative", "scale": {"domain": [0, 300], "nice": false, "zero": false}, "axis": null}}},
   {"data": {"name": "fitD"},
    "mark": {"type": "line", "color": "black", "strokeWidth": 1.5, "clip": true},
    "encoding": {"x": {"field": "fx", "type": "quantitative", "scale": {"domain": [10, 40], "nice": false, "zero": false}, "axis": null}, "y": {"field": "fy", "type": "quantitative", "scale": {"domain": [0, 300], "nice": false, "zero": false}, "axis": null}}},
   {"data": {"name": "letD"},
    "mark": {"type": "text", "fontSize": 46, "baseline": "middle"},
    "encoding": {"x": {"field": "lx", "type": "quantitative", "scale": {"domain": [10, 40], "nice": false, "zero": false}, "axis": null}, "y": {"field": "ly", "type": "quantitative", "scale": {"domain": [0, 300], "nice": false, "zero": false}, "axis": null}, "text": {"field": "t"}}},
   {"mark": {"type": "text", "fontSize": 30, "baseline": "middle"},
    "encoding": {"x": {"field": "x", "type": "quantitative", "scale": {"domain": [10, 40], "nice": false, "zero": false}, "axis": null}, "y": {"field": "y", "type": "quantitative", "scale": {"domain": [0, 300], "nice": false, "zero": false}, "axis": null}, "text": {"field": "m"}}},
   {"transform": [{"filter": "datum.lp == 'nw'"}],
    "mark": {"type": "text", "fontSize": 15, "dx": -21, "dy": -16},
    "encoding": {"x": {"field": "x", "type": "quantitative", "scale": {"domain": [10, 40], "nice": false, "zero": false}, "axis": null}, "y": {"field": "y", "type": "quantitative", "scale": {"domain": [0, 300], "nice": false, "zero": false}, "axis": null}, "text": {"field": "s"}}},
   {"transform": [{"filter": "datum.lp == 'ne'"}],
    "mark": {"type": "text", "fontSize": 15, "dx": 21, "dy": -16},
    "encoding": {"x": {"field": "x", "type": "quantitative", "scale": {"domain": [10, 40], "nice": false, "zero": false}, "axis": null}, "y": {"field": "y", "type": "quantitative", "scale": {"domain": [0, 300], "nice": false, "zero": false}, "axis": null}, "text": {"field": "s"}}},
   {"transform": [{"filter": "datum.lp == 'sw'"}],
    "mark": {"type": "text", "fontSize": 15, "dx": -21, "dy": 16},
    "encoding": {"x": {"field": "x", "type": "quantitative", "scale": {"domain": [10, 40], "nice": false, "zero": false}, "axis": null}, "y": {"field": "y", "type": "quantitative", "scale": {"domain": [0, 300], "nice": false, "zero": false}, "axis": null}, "text": {"field": "s"}}},
   {"transform": [{"filter": "datum.lp == 'se'"}],
    "mark": {"type": "text", "fontSize": 15, "dx": 21, "dy": 16},
    "encoding": {"x": {"field": "x", "type": "quantitative", "scale": {"domain": [10, 40], "nice": false, "zero": false}, "axis": null}, "y": {"field": "y", "type": "quantitative", "scale": {"domain": [0, 300], "nice": false, "zero": false}, "axis": null}, "text": {"field": "s"}}}
  ]
 }
]
}
